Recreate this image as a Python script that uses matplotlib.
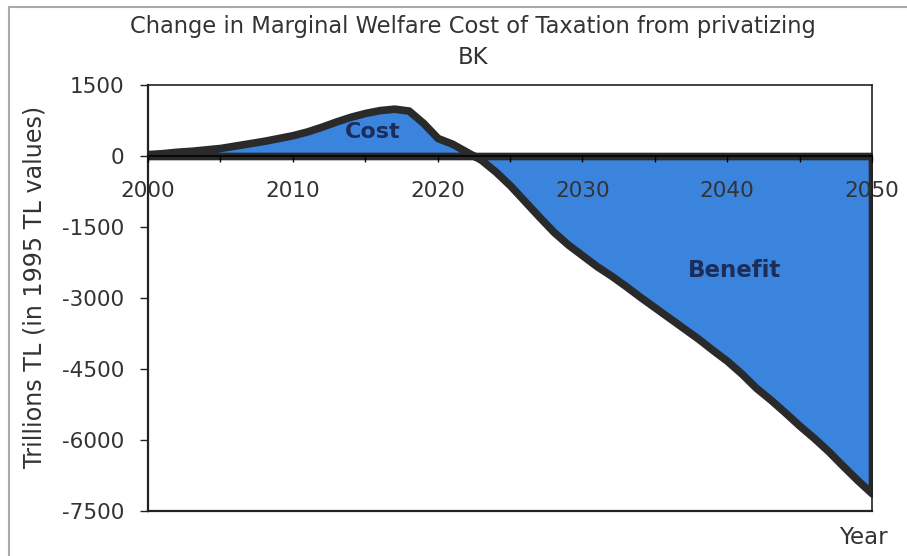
import numpy as np
import matplotlib
matplotlib.use('Agg')
import matplotlib.pyplot as plt
from matplotlib.ticker import MultipleLocator

plt.rcParams['axes.unicode_minus'] = False

# values, trillions TL (1995 prices)
years = np.arange(2000, 2051)
welfare_change = [40, 60, 90, 110, 140, 170, 220, 270, 320, 380,
                  440, 520, 620, 730, 830, 910, 970, 1000, 960, 700,
                  380, 260, 90, -80, -330, -620, -950, -1280, -1600, -1870,
                  -2100, -2330, -2530, -2750, -2980, -3200, -3420, -3640, -3860, -4100,
                  -4330, -4600, -4900, -5150, -5420, -5700, -5960, -6240, -6550, -6850,
                  -7130]
y_ticks = [1500, 0, -1500, -3000, -4500, -6000, -7500]
x_ticks = [2000, 2010, 2020, 2030, 2040, 2050]

title = 'Change in Marginal Welfare Cost of Taxation from privatizing\nBK'
ylabel = 'Trillions TL (in 1995 TL values)'

fill_col = '#3b84dd'
edge_col = '#2a2a2a'
txt_col = '#333333'

fig = plt.figure(figsize=(9.07, 5.56), dpi=100)
ax = fig.add_axes([148/907, 1 - 511/556, (872-148)/907, (511-85)/556])
ax.set_axisbelow(False)

y = np.asarray(welfare_change, dtype=float)
ax.fill_between(years, y, 0, facecolor=fill_col, edgecolor=edge_col,
                linewidth=5.5, joinstyle='round', zorder=2)

ax.set_xlim(2000, 2050)
ax.set_ylim(-7500, 1500)
ax.set_yticks(y_ticks)
ax.set_xticks(x_ticks)
ax.xaxis.set_minor_locator(MultipleLocator(5))

# x axis crosses at zero, keep a thin box line at the bottom
ax.spines['bottom'].set_position(('data', 0))
ax.spines['bottom'].set_linewidth(1.2)
ax.axhline(-7500, color='#222222', linewidth=1.6, zorder=3, clip_on=False)
for s in ['left', 'top', 'right']:
    ax.spines[s].set_linewidth(1.2)
    ax.spines[s].set_color('#222222')
ax.spines['left'].set_linewidth(1.6)

ax.tick_params(axis='y', labelsize=15.5, length=6, width=1, colors='#222222',
               labelcolor=txt_col, pad=11)
ax.tick_params(axis='x', which='both', direction='out', length=4, width=1,
               labelsize=15.5, labelcolor=txt_col, pad=14)

ax.text(2015.5, 507, 'Cost', ha='center', va='center', fontsize=16,
        fontweight='bold', color='#1c2d5a', zorder=4)
ax.text(2040.5, -2410, 'Benefit', ha='center', va='center', fontsize=16.5,
        fontweight='bold', color='#1c2d5a', zorder=4)

fig.text(473/907, 1 - 42/556, title, ha='center', va='center', fontsize=16.3,
         color=txt_col, linespacing=1.45)
fig.text(35/907, 1 - 287/556, ylabel, ha='center', va='center', rotation=90,
         fontsize=17.2, color=txt_col)
fig.text(863/907, 1 - 537/556, 'Year', ha='center', va='center', fontsize=16.5,
         color=txt_col)

# chart area border (left and top edges only visible)
fig.add_artist(plt.Line2D([9/907, 9/907], [0, 1 - 7/556], color='#aaaaaa',
                          linewidth=1.5, transform=fig.transFigure))
fig.add_artist(plt.Line2D([9/907, 1], [1 - 7/556, 1 - 7/556], color='#aaaaaa',
                          linewidth=1.5, transform=fig.transFigure))

fig.savefig('out.png', dpi=100)
